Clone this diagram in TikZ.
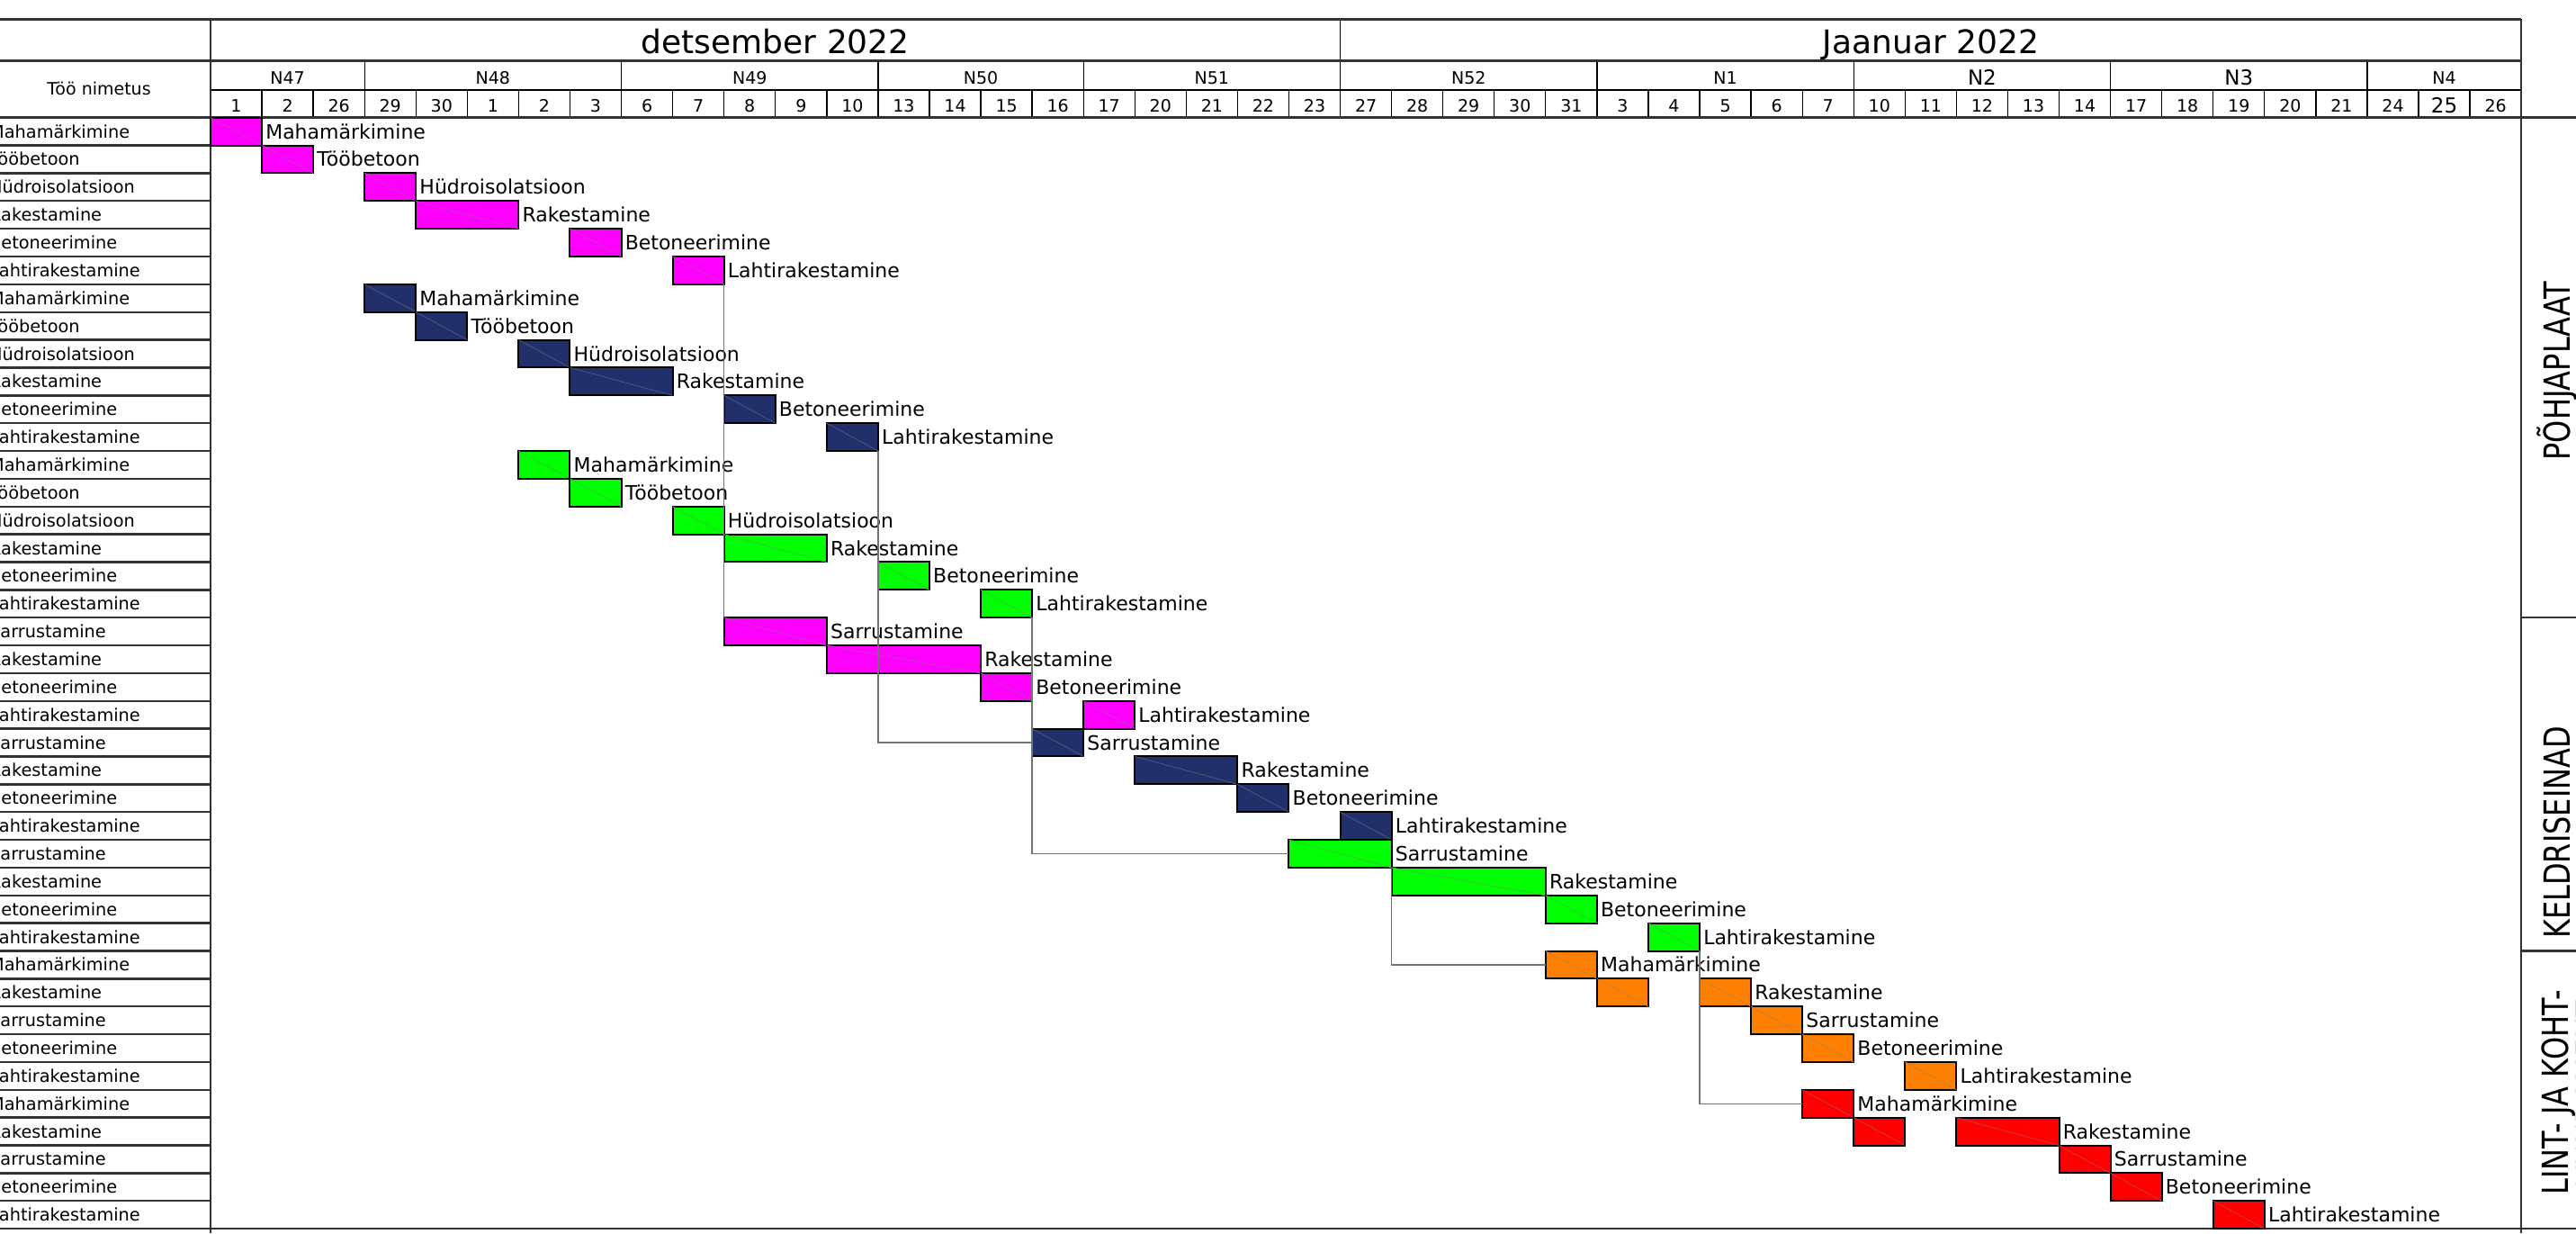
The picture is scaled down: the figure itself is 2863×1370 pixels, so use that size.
\documentclass[tikz,border=0pt]{standalone}
\usepackage{fontspec}
\setmainfont{DejaVu Sans}
\newfontfamily\sectfont[FakeStretch=0.8]{DejaVu Sans}

\definecolor{ganttmag}{RGB}{255,0,255}
\definecolor{ganttnavy}{RGB}{33,48,107}
\definecolor{ganttgreen}{RGB}{0,255,0}
\definecolor{ganttorange}{RGB}{255,128,0}
\definecolor{ganttred}{RGB}{255,0,0}

\def\xo{234}
\def\yo{130.7}
\def\colw{57.07}
\def\rowh{30.86}

\tikzset{
	heavy/.style={line width=2.4pt, draw=black!80},
	thin/.style={line width=1.3pt, draw=black},
	link/.style={line width=1.3pt, draw=black!55},
	bar/.style={draw=black, line width=2pt, inner sep=0pt, outer sep=0pt, minimum height=30.86pt},
	diag/.style={line width=0.9pt},
	tasklabel/.style={anchor=west, inner sep=0pt, text height=16pt, text depth=0pt, font=\fontsize{22}{22}\selectfont},
	rowlabel/.style={anchor=west, inner sep=0pt, text height=14pt, text depth=0pt, font=\fontsize{19.3}{20}\selectfont},
	daynum/.style={inner sep=0pt, text height=13.9pt, text depth=0pt, font=\fontsize{19}{19}\selectfont},
	bignum/.style={inner sep=0pt, text height=16.8pt, text depth=0pt, font=\fontsize{23}{23}\selectfont},
	monthname/.style={inner sep=0pt, text height=26.5pt, text depth=0pt, font=\fontsize{36}{36}\selectfont},
	sectlabel/.style={inner sep=0pt, align=center, font=\sectfont\fontsize{40}{36}\selectfont}
}

\def\task[#1](#2,#3,#4)#5#6{%
	\node[bar, fill=#1, minimum width={#4*\colw}] (#5) at ({\xo+(#2+#4/2)*\colw},{\yo+(#3+0.5)*\rowh}) {};
	\draw[diag, draw=#1!55!gray] (#5.north west) -- (#5.south east);
	\node[tasklabel] (#5t) at ([xshift=4pt]#5.east) {#6};}
\def\piece[#1](#2,#3,#4)#5{%
	\node[bar, fill=#1, minimum width={#4*\colw}] (#5) at ({\xo+(#2+#4/2)*\colw},{\yo+(#3+0.5)*\rowh}) {};
	\draw[diag, draw=#1!55!gray] (#5.north west) -- (#5.south east);}
\def\rowcell(#1)#2{%
	\draw[heavy] (-20,{\yo+#1*\rowh}) rectangle (\xo,{\yo+(#1+1)*\rowh});
	\node[rowlabel] (l#1) at (-12,{\yo+(#1+0.5)*\rowh}) {#2};}
\def\daycell[#1](#2)#3{%
	\draw[thin] ({\xo+#2*\colw},100) rectangle ({\xo+(#2+1)*\colw},\yo);
	\node[#1] (d#2) at ({\xo+(#2+0.5)*\colw},117.3) {#3};}
\def\weekcell[#1](#2,#3)#4#5{%
	\draw[thin] ({\xo+#2*\colw},67.5) rectangle ({\xo+#3*\colw},100);
	\node[#1] (#4) at ({\xo+(#2+#3)/2*\colw},86.5) {#5};}
\def\monthcell(#1,#2)#3#4{%
	\draw[thin] ({\xo+#1*\colw},21.7) rectangle ({\xo+#2*\colw},67.5);
	\node[monthname] (#3) at ({\xo+(#1+#2)/2*\colw},46) {#4};}

\begin{document}
\begin{tikzpicture}[x=1pt,y=-1pt]
	%%%%% START %%%%%
	\useasboundingbox (0,0) rectangle (2863,1370);
	\clip (0,0) rectangle (2863,1370);
	
	\monthcell(0,22){dec}{detsember 2022}
	\monthcell(22,45){jan}{Jaanuar 2022}
	
	\weekcell[daynum](0,3){w47}{N47}
	\weekcell[daynum](3,8){w48}{N48}
	\weekcell[daynum](8,13){w49}{N49}
	\weekcell[daynum](13,17){w50}{N50}
	\weekcell[daynum](17,22){w51}{N51}
	\weekcell[daynum](22,27){w52}{N52}
	\weekcell[daynum](27,32){w1}{N1}
	\weekcell[bignum](32,37){w2}{N2}
	\weekcell[bignum](37,42){w3}{N3}
	\weekcell[daynum](42,45){w4}{N4}
	
	\daycell[daynum](0){1} \daycell[daynum](1){2} \daycell[daynum](2){26}
	\daycell[daynum](3){29} \daycell[daynum](4){30} \daycell[daynum](5){1} \daycell[daynum](6){2} \daycell[daynum](7){3}
	\daycell[daynum](8){6} \daycell[daynum](9){7} \daycell[daynum](10){8} \daycell[daynum](11){9} \daycell[daynum](12){10}
	\daycell[daynum](13){13} \daycell[daynum](14){14} \daycell[daynum](15){15} \daycell[daynum](16){16}
	\daycell[daynum](17){17} \daycell[daynum](18){20} \daycell[daynum](19){21} \daycell[daynum](20){22} \daycell[daynum](21){23}
	\daycell[daynum](22){27} \daycell[daynum](23){28} \daycell[daynum](24){29} \daycell[daynum](25){30} \daycell[daynum](26){31}
	\daycell[daynum](27){3} \daycell[daynum](28){4} \daycell[daynum](29){5} \daycell[daynum](30){6} \daycell[daynum](31){7}
	\daycell[daynum](32){10} \daycell[daynum](33){11} \daycell[daynum](34){12} \daycell[daynum](35){13} \daycell[daynum](36){14}
	\daycell[daynum](37){17} \daycell[daynum](38){18} \daycell[daynum](39){19} \daycell[daynum](40){20} \daycell[daynum](41){21}
	\daycell[daynum](42){24} \daycell[bignum](43){25} \daycell[daynum](44){26}
	
	\node[daynum] (head) at (110,98.5) {Töö nimetus};
	
	\rowcell(0){Mahamärkimine}
	\rowcell(1){Tööbetoon}
	\rowcell(2){Hüdroisolatsioon}
	\rowcell(3){Rakestamine}
	\rowcell(4){Betoneerimine}
	\rowcell(5){Lahtirakestamine}
	\rowcell(6){Mahamärkimine}
	\rowcell(7){Tööbetoon}
	\rowcell(8){Hüdroisolatsioon}
	\rowcell(9){Rakestamine}
	\rowcell(10){Betoneerimine}
	\rowcell(11){Lahtirakestamine}
	\rowcell(12){Mahamärkimine}
	\rowcell(13){Tööbetoon}
	\rowcell(14){Hüdroisolatsioon}
	\rowcell(15){Rakestamine}
	\rowcell(16){Betoneerimine}
	\rowcell(17){Lahtirakestamine}
	\rowcell(18){Sarrustamine}
	\rowcell(19){Rakestamine}
	\rowcell(20){Betoneerimine}
	\rowcell(21){Lahtirakestamine}
	\rowcell(22){Sarrustamine}
	\rowcell(23){Rakestamine}
	\rowcell(24){Betoneerimine}
	\rowcell(25){Lahtirakestamine}
	\rowcell(26){Sarrustamine}
	\rowcell(27){Rakestamine}
	\rowcell(28){Betoneerimine}
	\rowcell(29){Lahtirakestamine}
	\rowcell(30){Mahamärkimine}
	\rowcell(31){Rakestamine}
	\rowcell(32){Sarrustamine}
	\rowcell(33){Betoneerimine}
	\rowcell(34){Lahtirakestamine}
	\rowcell(35){Mahamärkimine}
	\rowcell(36){Rakestamine}
	\rowcell(37){Sarrustamine}
	\rowcell(38){Betoneerimine}
	\rowcell(39){Lahtirakestamine}
	
	\draw[heavy] (0,21.7) -- (2802,21.7);
	\draw[heavy] (0,67.5) -- (2802,67.5);
	\draw[heavy] (0,\yo) -- (2863,\yo);
	\draw[heavy] (\xo,21.7) -- (\xo,1370);
	\draw[heavy] (2802,21.7) -- (2802,1370);
	\draw[heavy] (0,1365.1) -- (2863,1365.1);
	\draw[heavy] (2802,686.2) -- (2863,686.2);
	\draw[heavy] (2802,1056.5) -- (2863,1056.5);
	
	\node[sectlabel, rotate=90] (s1) at (2842,412) {PÕHJAPLAAT};
	\node[sectlabel, rotate=90] (s2) at (2842,925) {KELDRISEINAD};
	\node[sectlabel, rotate=90] (s3) at (2859,1214) {LINT- JA KOHT-\\VUNDAMENT};
	
	\task[ganttmag](0,0,1){m0}{Mahamärkimine}
	\task[ganttmag](1,1,1){m1}{Tööbetoon}
	\task[ganttmag](3,2,1){m2}{Hüdroisolatsioon}
	\task[ganttmag](4,3,2){m3}{Rakestamine}
	\task[ganttmag](7,4,1){m4}{Betoneerimine}
	\task[ganttmag](9,5,1){m5}{Lahtirakestamine}
	
	\task[ganttnavy](3,6,1){n6}{Mahamärkimine}
	\task[ganttnavy](4,7,1){n7}{Tööbetoon}
	\task[ganttnavy](6,8,1){n8}{Hüdroisolatsioon}
	\task[ganttnavy](7,9,2){n9}{Rakestamine}
	\task[ganttnavy](10,10,1){n10}{Betoneerimine}
	\task[ganttnavy](12,11,1){n11}{Lahtirakestamine}
	
	\task[ganttgreen](6,12,1){g12}{Mahamärkimine}
	\task[ganttgreen](7,13,1){g13}{Tööbetoon}
	\task[ganttgreen](9,14,1){g14}{Hüdroisolatsioon}
	\task[ganttgreen](10,15,2){g15}{Rakestamine}
	\task[ganttgreen](13,16,1){g16}{Betoneerimine}
	\task[ganttgreen](15,17,1){g17}{Lahtirakestamine}
	
	\task[ganttmag](10,18,2){m18}{Sarrustamine}
	\task[ganttmag](12,19,3){m19}{Rakestamine}
	\task[ganttmag](15,20,1){m20}{Betoneerimine}
	\task[ganttmag](17,21,1){m21}{Lahtirakestamine}
	
	\task[ganttnavy](16,22,1){n22}{Sarrustamine}
	\task[ganttnavy](18,23,2){n23}{Rakestamine}
	\task[ganttnavy](20,24,1){n24}{Betoneerimine}
	\task[ganttnavy](22,25,1){n25}{Lahtirakestamine}
	
	\task[ganttgreen](21,26,2){g26}{Sarrustamine}
	\task[ganttgreen](23,27,3){g27}{Rakestamine}
	\task[ganttgreen](26,28,1){g28}{Betoneerimine}
	\task[ganttgreen](28,29,1){g29}{Lahtirakestamine}
	
	\task[ganttorange](26,30,1){o30}{Mahamärkimine}
	\piece[ganttorange](27,31,1){o31a}
	\task[ganttorange](29,31,1){o31}{Rakestamine}
	\task[ganttorange](30,32,1){o32}{Sarrustamine}
	\task[ganttorange](31,33,1){o33}{Betoneerimine}
	\task[ganttorange](33,34,1){o34}{Lahtirakestamine}
	
	\task[ganttred](31,35,1){r35}{Mahamärkimine}
	\piece[ganttred](32,36,1){r36a}
	\task[ganttred](34,36,2){r36}{Rakestamine}
	\task[ganttred](36,37,1){r37}{Sarrustamine}
	\task[ganttred](37,38,1){r38}{Betoneerimine}
	\task[ganttred](39,39,1){r39}{Lahtirakestamine}
	
	\draw[link] (m5.south east) -- (m18.north west);
	\draw[link] (n11.south east) |- (n22.west);
	\draw[link] (g17.south east) |- (g26.west);
	\draw[link] (g26.south east) |- (o30.west);
	\draw[link] (g29.south east) |- (r35.west);
	
	%%%%% END %%%%%
\end{tikzpicture}
\end{document}
